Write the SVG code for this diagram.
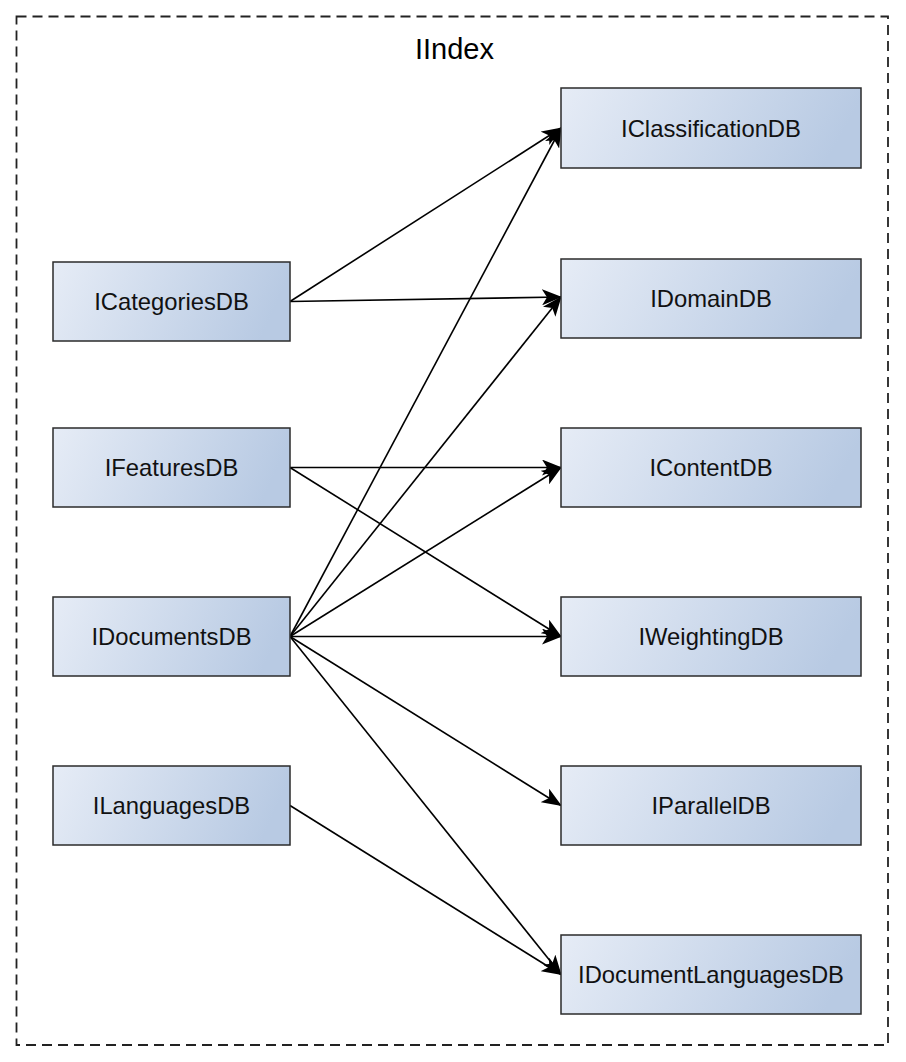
<svg xmlns="http://www.w3.org/2000/svg" width="906" height="1062" viewBox="0 0 906 1062">
<style>
.box{fill:url(#g);stroke:#2b2b2b;stroke-width:1.5}
.lbl{font-family:"Liberation Sans",Arial,sans-serif;font-size:23.8px;fill:#111;text-anchor:middle}
.e{stroke:#000;stroke-width:1.6;fill:none;marker-end:url(#a)}
</style>
<defs>
<linearGradient id="g" x1="0" y1="0" x2="1" y2="0.15">
<stop offset="0" stop-color="#e6ecf6"/>
<stop offset="1" stop-color="#b8cae3"/>
</linearGradient>
<marker id="a" viewBox="0 0 20 16" refX="19" refY="8" markerWidth="20" markerHeight="16" markerUnits="userSpaceOnUse" orient="auto">
<path d="M0,0 L20,8 L0,16 L5,8 Z" fill="#000"/>
</marker>
</defs>
<rect x="16.5" y="16.5" width="871.5" height="1028.5" fill="none" stroke="#222" stroke-width="1.8" stroke-dasharray="10,6"/>
<text x="454.5" y="59" style="font-family:'Liberation Sans',Arial,sans-serif;font-size:29px;fill:#000;text-anchor:middle">IIndex</text>
<g id="connectors">
<line class="e" x1="290" y1="301.5" x2="561" y2="128"/>
<line class="e" x1="290" y1="301.5" x2="561" y2="297"/>
<line class="e" x1="290" y1="467.5" x2="561" y2="467.5"/>
<line class="e" x1="290" y1="467.5" x2="561" y2="636.5"/>
<line class="e" x1="290" y1="636.5" x2="561" y2="128"/>
<line class="e" x1="290" y1="636.5" x2="561" y2="297"/>
<line class="e" x1="290" y1="636.5" x2="561" y2="467.5"/>
<line class="e" x1="290" y1="636.5" x2="561" y2="636.5"/>
<line class="e" x1="290" y1="636.5" x2="561" y2="805.5"/>
<line class="e" x1="290" y1="636.5" x2="561" y2="974.5"/>
<line class="e" x1="290" y1="805.5" x2="561" y2="974.5"/>
</g>
<g id="ICategoriesDB"><rect class="box" x="53" y="262" width="237" height="79"/><text class="lbl" x="171.5" y="310">ICategoriesDB</text></g>
<g id="IFeaturesDB"><rect class="box" x="53" y="428" width="237" height="79"/><text class="lbl" x="171.5" y="476">IFeaturesDB</text></g>
<g id="IDocumentsDB"><rect class="box" x="53" y="597" width="237" height="79"/><text class="lbl" x="171.5" y="645">IDocumentsDB</text></g>
<g id="ILanguagesDB"><rect class="box" x="53" y="766" width="237" height="79"/><text class="lbl" x="171.5" y="814">ILanguagesDB</text></g>
<g id="IClassificationDB"><rect class="box" x="561" y="88" width="300" height="80"/><text class="lbl" x="711" y="137">IClassificationDB</text></g>
<g id="IDomainDB"><rect class="box" x="561" y="259" width="300" height="79"/><text class="lbl" x="711" y="307">IDomainDB</text></g>
<g id="IContentDB"><rect class="box" x="561" y="428" width="300" height="79"/><text class="lbl" x="711" y="476">IContentDB</text></g>
<g id="IWeightingDB"><rect class="box" x="561" y="597" width="300" height="79"/><text class="lbl" x="711" y="645">IWeightingDB</text></g>
<g id="IParallelDB"><rect class="box" x="561" y="766" width="300" height="79"/><text class="lbl" x="711" y="814">IParallelDB</text></g>
<g id="IDocumentLanguagesDB"><rect class="box" x="561" y="935" width="300" height="79"/><text class="lbl" x="711" y="983">IDocumentLanguagesDB</text></g>
</svg>
